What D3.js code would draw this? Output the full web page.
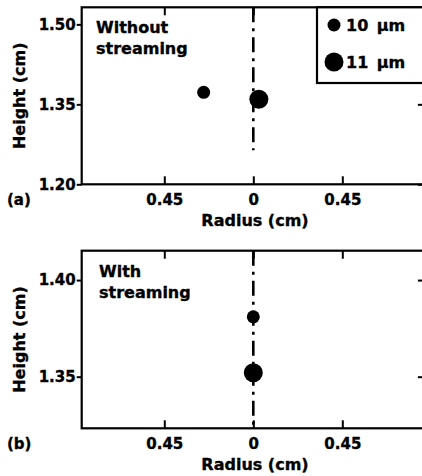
<!DOCTYPE html>
<html>
<head>
<meta charset="utf-8">
<script src="https://cdn.jsdelivr.net/npm/d3@7"></script>
<style>
  html, body { margin: 0; padding: 0; background: #fff; }
  svg { display: block; }
  text { font-family: "DejaVu Sans", "Liberation Sans", Arial, sans-serif; font-weight: bold; fill: #000; stroke: #000; stroke-width: 0.35px; }
</style>
</head>
<body>
<svg id="chart" width="422" height="476"></svg>
<script>
// ---------- data ----------
const radiusTicks = [-0.45, 0, 0.45];
const radiusTickLabels = ["0.45", "0", "0.45"];
const dropletSizes = ["10 µm", "11 µm"];

// Panel (a): without streaming
const panelAHeightTicks = [1.20, 1.35, 1.50];
const panelAHeightTickLabels = ["1.20", "1.35", "1.50"];
const panelARadius = [-0.251, 0.028];
const panelAHeight = [1.3725, 1.3594];
const panelASize = ["10 µm", "11 µm"];
const panelAAxisLine = [1.532, 1.264];   // extent of dash-dot centre line (height)

// Panel (b): with streaming
const panelBHeightTicks = [1.35, 1.40];
const panelBHeightTickLabels = ["1.35", "1.40"];
const panelBRadius = [0, 0];
const panelBHeight = [1.381, 1.352];
const panelBSize = ["10 µm", "11 µm"];
const panelBAxisLine = [1.4152, 1.3233];

// ---------- drawing ----------
const svg = d3.select("#chart");
const radiusDomain = [-0.8676, 0.8676];
const x = d3.scaleLinear().domain(radiusDomain).range([81.7, 424.9]);
const rScale = d3.scaleOrdinal().domain(dropletSizes).range([6.5, 9.5]);

function drawPanel(cfg) {
  const y = d3.scaleLinear().domain(cfg.yDomain).range(cfg.yRange);
  const g = svg.append("g");
  const [x0, x1] = x.range();
  const yb = y.range()[0], yt = y.range()[1];

  // frame
  g.append("rect")
    .attr("x", x0).attr("y", yt)
    .attr("width", x1 - x0).attr("height", yb - yt)
    .attr("fill", "none").attr("stroke", "#000").attr("stroke-width", 2.2);

  // bottom axis (inward ticks)
  const bx = g.append("g").attr("transform", `translate(0,${yb})`)
    .call(d3.axisBottom(x).tickValues(radiusTicks).tickSize(-8)
      .tickFormat((d, i) => radiusTickLabels[i]));
  bx.select(".domain").remove();
  bx.selectAll("line").attr("stroke", "#000").attr("stroke-width", 2);
  bx.selectAll("text").attr("dy", null).attr("y", 21)
    .attr("font-size", 15).attr("font-family", null);

  // top axis (inward ticks)
  const tx = g.append("g").attr("transform", `translate(0,${yt})`)
    .call(d3.axisTop(x).tickValues(radiusTicks).tickSize(-8).tickFormat(""));
  tx.select(".domain").remove();
  tx.selectAll("line").attr("stroke", "#000").attr("stroke-width", 2);

  // left axis (outward ticks)
  const ly = g.append("g").attr("transform", `translate(${x0},0)`)
    .call(d3.axisLeft(y).tickValues(cfg.yTicks).tickSize(5).tickPadding(1)
      .tickFormat((d, i) => cfg.yTickLabels[i]));
  ly.select(".domain").remove();
  ly.selectAll("line").attr("stroke", "#000").attr("stroke-width", 2);
  ly.selectAll("text").attr("font-size", 15).attr("font-family", null);

  // right axis (inward ticks)
  const ry = g.append("g").attr("transform", `translate(${x1},0)`)
    .call(d3.axisRight(y).tickValues(cfg.yTicks).tickSize(-7).tickFormat(""));
  ry.select(".domain").remove();
  ry.selectAll("line").attr("stroke", "#000").attr("stroke-width", 2);

  // dash-dot centre line
  g.append("line")
    .attr("x1", x(0)).attr("x2", x(0))
    .attr("y1", y(cfg.axisLine[0])).attr("y2", y(cfg.axisLine[1]))
    .attr("stroke", "#000").attr("stroke-width", 2.6)
    .attr("stroke-dasharray", "15,6,3,6");

  // points
  const pts = cfg.radius.map((r, i) => ({ r, h: cfg.height[i], s: cfg.size[i] }));
  g.selectAll("circle.pt").data(pts).join("circle")
    .attr("class", "pt")
    .attr("cx", d => x(d.r)).attr("cy", d => y(d.h))
    .attr("r", d => rScale(d.s)).attr("fill", "#000");

  // axis titles
  g.append("text")
    .attr("transform", `translate(25,${(yt + yb) / 2}) rotate(-90)`)
    .attr("text-anchor", "middle").attr("font-size", 16)
    .text("Height (cm)");
  g.append("text")
    .attr("x", 255).attr("y", yb + 42)
    .attr("text-anchor", "middle").attr("font-size", 16)
    .text("Radius (cm)");

  // panel letter
  g.append("text").attr("x", 7).attr("y", yb + 21)
    .attr("font-size", 15).text(cfg.letter);

  // annotation
  cfg.note.forEach((t, i) => {
    g.append("text").attr("x", cfg.noteX).attr("y", yt + cfg.noteY + i * 21)
      .attr("font-size", 16).text(t);
  });
  return { g, y };
}

const A = drawPanel({
  yDomain: [1.20, 1.532], yRange: [184.3, 7.3],
  yTicks: panelAHeightTicks, yTickLabels: panelAHeightTickLabels,
  radius: panelARadius, height: panelAHeight, size: panelASize,
  axisLine: panelAAxisLine, letter: "(a)",
  note: ["Without", "streaming"], noteX: 96, noteY: 26
});

drawPanel({
  yDomain: [1.3233, 1.4152], yRange: [428.3, 250.7],
  yTicks: panelBHeightTicks, yTickLabels: panelBHeightTickLabels,
  radius: panelBRadius, height: panelBHeight, size: panelBSize,
  axisLine: panelBAxisLine, letter: "(b)",
  note: ["With", "streaming"], noteX: 99, noteY: 26
});

// legend (panel a, top-right)
const lg = A.g.append("g");
const legX = 317, legTop = 7.3, legBottom = 83;
lg.append("rect")
  .attr("x", legX).attr("y", legTop)
  .attr("width", x.range()[1] - legX).attr("height", legBottom - legTop)
  .attr("fill", "#fff").attr("stroke", "#000").attr("stroke-width", 2.2);
const legRows = [25, 62];
dropletSizes.forEach((s, i) => {
  lg.append("circle").attr("cx", 334).attr("cy", legRows[i])
    .attr("r", rScale(s)).attr("fill", "#000");
  lg.append("text").attr("x", 346).attr("y", legRows[i] + 6)
    .attr("font-size", 16).attr("word-spacing", 3).text(s);
});
</script>
</body>
</html>
